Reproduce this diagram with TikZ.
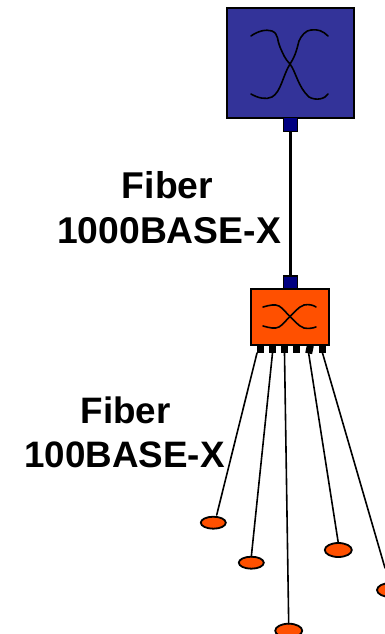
\documentclass[tikz,border=0pt]{standalone}
\usepackage{fontspec}
\setmainfont{Liberation Sans}
\usetikzlibrary{shapes.geometric}
\definecolor{swblue}{RGB}{51,51,153}
\definecolor{portblue}{RGB}{0,0,128}
\definecolor{orng}{RGB}{255,80,0}
\tikzset{
  boxn/.style={draw=black,line width=1.8pt,minimum width=#1,inner sep=0pt,outer sep=0pt},
  portn/.style={draw=black,line width=1.5pt,fill=portblue,minimum width=14pt,minimum height=14pt,inner sep=0pt,outer sep=0pt},
  pin/.style={fill=black,minimum width=7pt,minimum height=8pt,inner sep=0pt,outer sep=0pt},
  leaf/.style={ellipse,draw=black,line width=1.8pt,fill=orng,minimum width=#1,inner sep=0pt,outer sep=0pt},
  leaf/.default=24pt,
  link/.style={draw=black,line width=1.6pt,line cap=round},
  trunk/.style={draw=black,line width=2.7pt},
  xcurve/.style={draw=black,line width=1.6pt,line cap=round},
  lab/.style={font=\fontsize{37.3}{43}\selectfont\bfseries,align=center,inner sep=0pt,text depth=0pt},
  labs/.style={font=\fontsize{36.8}{43}\selectfont\bfseries,align=center,inner sep=0pt,text depth=0pt}
}
\begin{document}
\begin{tikzpicture}[x=1pt,y=-1pt]
\useasboundingbox (0,0) rectangle (385,634);
\clip (0,0) rectangle (385,634);
% core switch
\node[boxn=127pt,fill=swblue,minimum height=110pt] (core) at (290.5,63) {};
\node[portn] (coreport) at (290.5,124.5) {};
\node[portn,minimum height=13pt] (edgeport) at (290.5,282.5) {};
\draw[trunk] (coreport.south) -- (edgeport.north);
\draw[xcurve] (251,36) .. controls (258,31) and (266,29) .. (272,31) .. controls (279,34) and (277,41) .. (280,47) .. controls (283,54) and (285,59) .. (290,64) .. controls (296,72) and (298,87) .. (309,97) .. controls (316,101) and (325,99) .. (328,94);
\draw[xcurve] (251,94) .. controls (258,98) and (266,100) .. (272,97) .. controls (281,92) and (283,75) .. (290,64) .. controls (296,55) and (297,48) .. (299,41) .. controls (301,36) and (306,30) .. (311,30) .. controls (318,29) and (323,31) .. (328,36);
% edge switch
\node[boxn=78pt,fill=orng,minimum height=56pt] (edge) at (290.3,316.7) {};
\draw[xcurve] (263,307) .. controls (270,305) and (275,304) .. (279,306) .. controls (284,309) and (286,313) .. (290,316.5) .. controls (294,320) and (298,326) .. (304,328) .. controls (309,329) and (313,328) .. (316,327);
\draw[xcurve] (263,326) .. controls (270,328) and (275,329) .. (279,327) .. controls (284,324) and (286,320) .. (290,316.5) .. controls (294,313) and (298,307) .. (304,305) .. controls (309,304) and (313,305) .. (316,307);
% pins
\node[pin] (p1) at (260.5,349) {};
\node[pin] (p2) at (272.5,349) {};
\node[pin] (p3) at (284.5,349) {};
\node[pin] (p4) at (296.5,349) {};
\node[pin,rotate=-12] (p5) at (309.5,349.5) {};
\node[pin] (p6) at (322.5,349) {};
% leaves
\node[leaf=25pt,minimum height=12pt] (l1) at (213.3,522.7) {};
\node[leaf=25pt,minimum height=12pt] (l2) at (251.3,562.7) {};
\node[leaf=27pt,minimum height=14pt] (l3) at (288.7,630.7) {};
\node[leaf=27pt,minimum height=14pt] (l5) at (338.3,550) {};
\node[leaf=27pt,minimum height=14pt] (l6) at (390.5,590) {};
\coordinate (e1) at (216.7,515);
\coordinate (e6) at (385,568);
\draw[link] (p1.south west) -- (e1);
\draw[link] (p2.south) -- (l2.north);
\draw[link] (p3.south) -- (l3.north);
\draw[link] (p5.south) -- (l5.north);
\draw[link] (p6.south) -- (e6);
% labels
\node[lab,anchor=base] (t1) at (167.5,198.5) {Fiber};
\node[lab,anchor=base] (t2) at (169,243) {1000BASE-X};
\node[labs,anchor=base] (t3) at (125.5,423) {Fiber};
\node[labs,anchor=base] (t4) at (124.5,467) {100BASE-X};
\end{tikzpicture}
\end{document}
